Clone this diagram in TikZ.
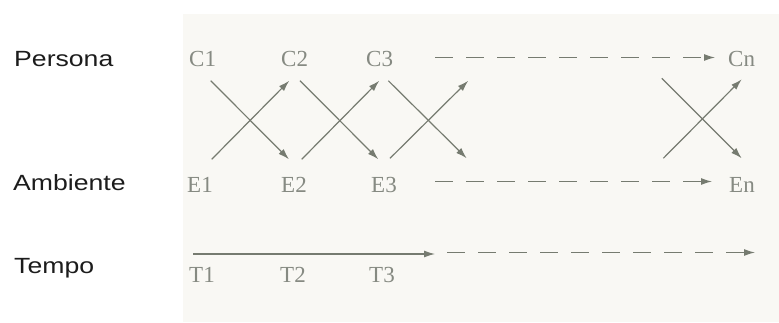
\documentclass[tikz,border=0pt]{standalone}
\usepackage{fontspec}
\setmainfont{Liberation Serif}
\newfontfamily\rowfont[FakeStretch=1.21]{Liberation Sans}
\usetikzlibrary{arrows.meta}
\definecolor{panel}{HTML}{F9F8F4}
\definecolor{linec}{HTML}{767B70}
\definecolor{labc}{HTML}{868A82}
\definecolor{rowc}{HTML}{1C1C1C}
\tikzset{
  rowlab/.style={anchor=base west, inner sep=0pt, text=rowc, font=\rowfont\fontsize{22}{22}\selectfont},
  vlab/.style={anchor=base west, inner sep=0pt, text=labc, font=\fontsize{23}{23}\selectfont},
  arr/.style={draw=linec, line width=1.2pt, -{Latex[length=11pt,width=7pt]}},
  darr/.style={arr, dash pattern=on 18pt off 13pt},
}
\begin{document}
\begin{tikzpicture}[x=1pt,y=-1pt]
\useasboundingbox (0,0) rectangle (779,322);
\fill[white] (0,0) rectangle (779,322);
\fill[panel] (183,14) rectangle (779,322);
% row labels
\node[rowlab] (persona) at (14,66.5) {Persona};
\node[rowlab] (ambiente) at (13,190) {Ambiente};
\node[rowlab] (tempo) at (14,273) {Tempo};
% state labels
\node[vlab] (C1) at (189,66.5) {C1};
\node[vlab] (C2) at (281,66.5) {C2};
\node[vlab] (C3) at (366,66.5) {C3};
\node[vlab] (Cn) at (728,66.5) {Cn};
\node[vlab] (E1) at (187,192.5) {E1};
\node[vlab] (E2) at (281,192.5) {E2};
\node[vlab] (E3) at (371,192.5) {E3};
\node[vlab] (En) at (729,192.5) {En};
\node[vlab] (T1) at (189,282) {T1};
\node[vlab] (T2) at (280,282) {T2};
\node[vlab] (T3) at (369,282) {T3};
% arrow end points
\coordinate (a1s) at (210.7,80.7);  \coordinate (a1e) at (289,159.3);
\coordinate (b1s) at (211.7,159.3); \coordinate (b1e) at (289.3,80.7);
\coordinate (a2s) at (300,80.7);    \coordinate (a2e) at (378.3,159.3);
\coordinate (b2s) at (301.7,159.3); \coordinate (b2e) at (379.3,80.7);
\coordinate (a3s) at (388.3,80.7);  \coordinate (a3e) at (466.7,158.3);
\coordinate (b3s) at (390,158.3);   \coordinate (b3e) at (468.3,80.7);
\coordinate (ans) at (661.7,78.3);  \coordinate (ane) at (741.7,158.3);
\coordinate (bns) at (663.3,158.3); \coordinate (bne) at (741.7,79.3);
\coordinate (cds) at (435,57.5);    \coordinate (cde) at (715,57.5);
\coordinate (eds) at (435,181.5);   \coordinate (ede) at (712,181.5);
\coordinate (tss) at (193,254);     \coordinate (tse) at (435,254);
\coordinate (tds) at (447,252.5);   \coordinate (tde) at (755,252.5);
% crossings
\draw[arr] (a1s) -- (a1e);
\draw[arr] (b1s) -- (b1e);
\draw[arr] (a2s) -- (a2e);
\draw[arr] (b2s) -- (b2e);
\draw[arr] (a3s) -- (a3e);
\draw[arr] (b3s) -- (b3e);
\draw[arr] (ans) -- (ane);
\draw[arr] (bns) -- (bne);
% dashed continuations
\draw[darr] (cds) -- (cde);
\draw[darr] (eds) -- (ede);
\draw[arr] (tss) -- (tse);
\draw[darr] (tds) -- (tde);
\end{tikzpicture}
\end{document}
